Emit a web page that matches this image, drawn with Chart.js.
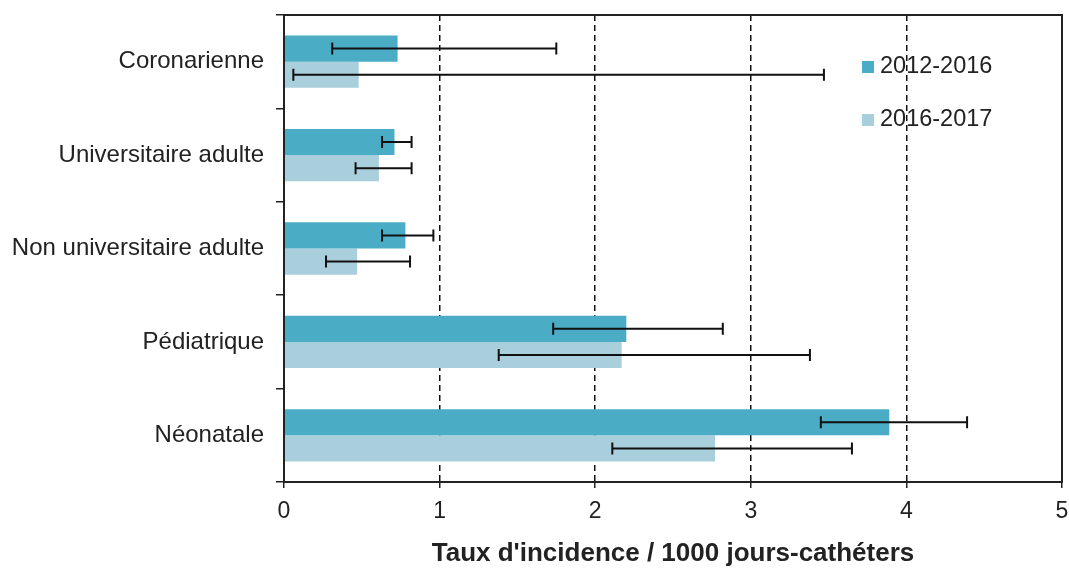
<!DOCTYPE html>
<html>
<head>
<meta charset="utf-8">
<script src="https://cdn.jsdelivr.net/npm/chart.js@4"></script>
<style>
  html, body { margin: 0; padding: 0; background: #fff; }
  #wrap { width: 1069px; height: 570px; position: relative; }
</style>
</head>
<body>
<div id="wrap"><canvas id="chart" width="1069" height="570"></canvas></div>
<script>
const categories = ["Coronarienne", "Universitaire adulte", "Non universitaire adulte", "Pédiatrique", "Néonatale"];
const seriesNames = ["2012-2016", "2016-2017"];

const rate2012 = [0.73, 0.71, 0.78, 2.20, 3.89];
const low2012  = [0.31, 0.63, 0.63, 1.73, 3.45];
const high2012 = [1.75, 0.82, 0.96, 2.82, 4.39];

const rate2016 = [0.48, 0.61, 0.47, 2.17, 2.77];
const low2016  = [0.06, 0.46, 0.27, 1.38, 2.11];
const high2016 = [3.47, 0.82, 0.81, 3.38, 3.65];

const xTicks = [0, 1, 2, 3, 4, 5];

const colDark = "#4bacc6";
const colLight = "#a9cfdc";
const fontFam = "'Liberation Sans', Arial, sans-serif";

// barres d'erreur (min / max)
const errorBars = {
    id: "errorBars",
    afterDatasetsDraw(chart) {
        const ctx = chart.ctx;
        const xs = chart.scales.x;
        const lows = [low2012, low2016];
        const highs = [high2012, high2016];
        ctx.save();
        ctx.strokeStyle = "#111";
        ctx.lineWidth = 2;
        chart.data.datasets.forEach((ds, di) => {
            const meta = chart.getDatasetMeta(di);
            meta.data.forEach((bar, i) => {
                const y = bar.y;
                const x1 = xs.getPixelForValue(lows[di][i]);
                const x2 = xs.getPixelForValue(highs[di][i]);
                ctx.beginPath();
                ctx.moveTo(x1, y); ctx.lineTo(x2, y);
                ctx.moveTo(x1, y - 6); ctx.lineTo(x1, y + 6);
                ctx.moveTo(x2, y - 6); ctx.lineTo(x2, y + 6);
                ctx.stroke();
            });
        });
        ctx.restore();
    }
};

// cadre + légende
const frameLegend = {
    id: "frameLegend",
    afterDraw(chart) {
        const ctx = chart.ctx;
        const a = chart.chartArea;
        ctx.save();
        ctx.strokeStyle = "#222";
        ctx.lineWidth = 2;
        ctx.strokeRect(a.left, a.top, a.right - a.left, a.bottom - a.top);

        ctx.font = "23.5px " + fontFam;
        ctx.textBaseline = "middle";
        ctx.textAlign = "left";
        const cols = [colDark, colLight];
        seriesNames.forEach((name, i) => {
            const y = 67 + i * 53;
            ctx.fillStyle = cols[i];
            ctx.fillRect(862, y - 6, 12, 12);
            ctx.fillStyle = "#222";
            ctx.fillText(name, 880, y);
        });
        ctx.restore();
    }
};

new Chart(document.getElementById("chart"), {
    type: "bar",
    data: {
        labels: categories,
        datasets: [
            { label: seriesNames[0], data: rate2012, backgroundColor: colDark },
            { label: seriesNames[1], data: rate2016, backgroundColor: colLight }
        ]
    },
    options: {
        indexAxis: "y",
        responsive: false,
        animation: false,
        categoryPercentage: 0.56,
        barPercentage: 1.0,
        layout: { padding: { top: 15, right: 7, left: 0, bottom: 0 } },
        plugins: {
            legend: { display: false },
            tooltip: { enabled: false }
        },
        scales: {
            x: {
                min: 0,
                max: 5,
                afterBuildTicks(scale) {
                    scale.ticks = xTicks.map(v => ({ value: v }));
                },
                afterFit(scale) {
                    scale.height = 88;
                    scale.paddingLeft = 0;
                    scale.paddingRight = 0;
                },
                grid: {
                    color: ctx => (ctx.tick && ctx.tick.value > 0 && ctx.tick.value < 5) ? "#111" : "rgba(0,0,0,0)",
                    lineWidth: 1.5,
                    tickColor: "#222",
                    tickLength: 6,
                    tickBorderDash: []
                },
                border: { color: "#222", width: 2, dash: [6, 4] },
                ticks: {
                    color: "#222",
                    padding: 10,
                    font: { family: fontFam, size: 23 }
                },
                title: {
                    display: true,
                    text: "Taux d'incidence / 1000 jours-cathéters",
                    color: "#222",
                    padding: { top: 10, bottom: 1 },
                    font: { family: fontFam, size: 26, weight: "bold" }
                }
            },
            y: {
                afterFit(scale) {
                    scale.width = 284;
                    scale.paddingTop = 0;
                    scale.paddingBottom = 0;
                },
                grid: {
                    offset: true,
                    drawOnChartArea: false,
                    color: "#222",
                    tickLength: 8,
                    lineWidth: 1.5
                },
                border: { color: "#222", width: 2 },
                ticks: {
                    color: "#222",
                    padding: 12,
                    font: { family: fontFam, size: 24 }
                }
            }
        }
    },
    plugins: [errorBars, frameLegend]
});
</script>
</body>
</html>
